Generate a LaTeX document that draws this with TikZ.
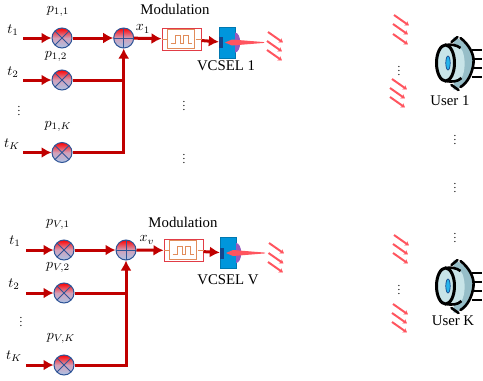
\documentclass[tikz,border=0pt]{standalone}
\usepackage{amsmath,amssymb}
\usepackage{fontspec}
\setmainfont{Liberation Serif}
\usepackage{tikz}
\usetikzlibrary{arrows.meta,calc}
\definecolor{sigred}{RGB}{192,0,0}
\definecolor{rimblue}{RGB}{47,85,151}
\definecolor{paleblue}{RGB}{170,195,230}
\definecolor{midpink}{RGB}{210,160,185}
\definecolor{beamred}{RGB}{255,85,95}
\definecolor{modred}{RGB}{225,60,70}
\definecolor{modorange}{RGB}{225,140,90}
\definecolor{chipblue}{RGB}{0,150,220}
\definecolor{chipdark}{RGB}{20,70,140}
\definecolor{lenspurple}{RGB}{150,90,190}
\definecolor{camteal}{RGB}{150,190,200}
\definecolor{campale}{RGB}{200,228,232}
\definecolor{camcyan}{RGB}{40,180,235}
\tikzset{
  lbl/.style={font=\fontsize{14.8}{16}\selectfont,inner sep=0pt},
  mathlbl/.style={scale=1.4,inner sep=0pt},
  mult/.style={circle,draw=rimblue,line width=1pt,minimum size=20pt,inner sep=0pt,
    top color=red,bottom color=paleblue,middle color=midpink,
    path picture={\draw[rimblue,line width=1pt] (path picture bounding box.north west)--(path picture bounding box.south east)
      (path picture bounding box.north east)--(path picture bounding box.south west);}},
  adder/.style={circle,draw=rimblue,line width=1pt,minimum size=20pt,inner sep=0pt,
    top color=red,bottom color=paleblue,middle color=midpink,
    path picture={\draw[rimblue,line width=1pt] (path picture bounding box.north)--(path picture bounding box.south)
      (path picture bounding box.east)--(path picture bounding box.west);}},
  sig/.style={sigred,line width=3pt,-{Latex[length=10pt,width=11pt]}},
  wire/.style={sigred,line width=3pt},
  wave/.style={beamred,line width=2pt,-{Stealth[length=4pt,width=5pt]}},
  modbox/.style={draw=modred,line width=1pt,minimum width=39pt,minimum height=22pt,inner sep=0pt},
  chip/.style={draw=chipblue!80!black,fill=chipblue,minimum width=16pt,minimum height=31pt,inner sep=0pt},
  vdots/.style={font=\fontsize{11}{12}\selectfont,inner sep=0pt}
}
\newcommand{\camicon}[2]{%
  \begin{scope}[shift={(#1,#2)}]
  \fill[camteal] (8,-26) .. controls (22,-22) and (28,-10) .. (28,0) .. controls (28,10) and (22,22) .. (8,27) -- cycle;
  \foreach \yy in {-13,-4,5,14} {
    \draw[black,line width=2.6pt] (26,\yy)--(36,\yy);
  }
  \draw[black,line width=2.6pt,line cap=round] (15,-25) .. controls (24,-18) and (29,-8) .. (28,0) .. controls (27,10) and (22,20) .. (15,24);
  \draw[black,line width=2.6pt,line cap=round] (6,-21) -- (12,-26) (6,22) -- (13,27);
  \fill[campale] (0,-18) .. controls (8,-19) and (15,-17) .. (17,-12) .. controls (20,-4) and (20,8) .. (16,15) .. controls (12,19) and (6,19) .. (0,18) -- cycle;
  \draw[black,line width=2.6pt] (0,-18) .. controls (6,-19) and (11,-18) .. (15,-15);
  \draw[black,line width=2.6pt] (0,18) .. controls (6,19) and (12,19) .. (16,15);
  \draw[black,line width=3pt,fill=campale] (0,0) ellipse (9pt and 18pt);
  \draw[chipdark,line width=.7pt,fill=camcyan] (2.5,0) ellipse (2.2pt and 7pt);
  \end{scope}
}
\begin{document}
\begin{tikzpicture}[x=1pt,y=-1pt]
\useasboundingbox (0,0) rectangle (483,381);
% upper group
\node[mult] (m11) at (62,38) {};
\node[mult] (m12) at (62,80) {};
\node[mult] (m1K) at (62,152.5) {};
\node[adder] (s1) at (123.7,38) {};
\foreach \m/\yy in {m11/38,m12/80,m1K/152.5} {
  \coordinate (in\m) at (23,\yy);
  \draw[sig] (in\m) -- (\m);
}
\draw[sig] (m11) -- (s1);
\draw[wire] (m12) -- (m12 -| s1);
\draw[sig] (m1K) -| (s1);
\node[modbox] (mod1) at (181.5,39) {};
\draw[sig] (s1) -- (mod1);
\node[chip] (vc1) at (227,42.5) {};
\draw[sig] (mod1) -- (vc1);
% lower group
\node[mult] (mV1) at (64,250) {};
\node[mult] (mV2) at (64,293) {};
\node[mult] (mVK) at (64,365) {};
\node[adder] (sV) at (126,250) {};
\foreach \m/\yy in {mV1/250,mV2/293,mVK/365} {
  \coordinate (in\m) at (26,\yy);
  \draw[sig] (in\m) -- (\m);
}
\draw[sig] (mV1) -- (sV);
\draw[wire] (mV2) -- (mV2 -| sV);
\draw[sig] (mVK) -| (sV);
\node[modbox] (modV) at (183.5,250.5) {};
\draw[sig] (sV) -- (modV);
\node[chip] (vcV) at (228,253) {};
\draw[sig] (modV) -- (vcV);
% modulators and lasers
\foreach \b/\c in {mod1/vc1,modV/vcV} {
  \draw[modorange,line width=.8pt] (\b.west) -- ++(6,0) ($(\b.east)+(-6,0)$) -- (\b.east);
  \draw[modorange,line width=1pt] ($(\b.north west)+(6,1.5)$) -- ++(0,19) -- ++(27,0) -- ++(0,-19) -- cycle;
  \draw[modorange,line width=1pt] ($(\b.center)+(-11,4)$) -- ++(5,0) -- ++(0,-8) -- ++(5,0) -- ++(0,8) -- ++(3,0) -- ++(0,-8) -- ++(5,0) -- ++(0,8) -- ++(3,0);
  \fill[lenspurple] ($(\c.east)+(0,10)$) arc (-90:90:5pt and 10pt) -- cycle;
  \fill[chipdark] ($(\c.west)+(0,-5.5)$) rectangle ($(\c.west)+(4,5.5)$);
  \fill[beamred] ($(\c.center)+(-2,0)$) -- ($(\c.center)+(5,-3)$) -- ($(\c.center)+(37,-.4)$) -- ($(\c.center)+(37,.4)$) -- ($(\c.center)+(5,3)$) -- cycle;
}
% beams
\foreach \x/\y in {268/32,267/41,267/50,269/243,268.5/253,268/262,394/15,393/24,393/34,392/79,390/88,390/97,394/235,393/244,393/253,393/304,392/313,392/322} {
  \coordinate (wa) at (\x,\y);
  \coordinate (wb) at (\x+15,\y+10.5);
  \draw[wave] (wa) -- (wb);
}
% users
\camicon{445.5}{63}
\camicon{445.5}{286}
% labels
\foreach \x/\y/\t in {13/30/t_1,13/72/t_2,12/144/t_K,15/241/t_1,14/284/t_2,14/356/t_K,
  58/11/p_{1,1},56/56/p_{1,2},58/126/p_{1,K},58/224/p_{V,1},58/267/p_{V,2},61/338/p_{V,K},
  143/29/x_1,147/240/x_v} {
  \node[mathlbl] (lb) at (\x,\y) {$\t$};
}
\foreach \x/\y/\t in {175/9/Modulation,183/222/Modulation,226/66/VCSEL 1,228/280/VCSEL V,450/100.5/User 1,453/321/User K} {
  \node[lbl] (tx) at (\x,\y) {\t};
}
\foreach \x/\y in {19/108,184/103,184/156,399/68,455/137,455/185,455/235,21/319,399/287} {
  \node[vdots] (dd) at (\x,\y) {$\vdots$};
}
\end{tikzpicture}
\end{document}
